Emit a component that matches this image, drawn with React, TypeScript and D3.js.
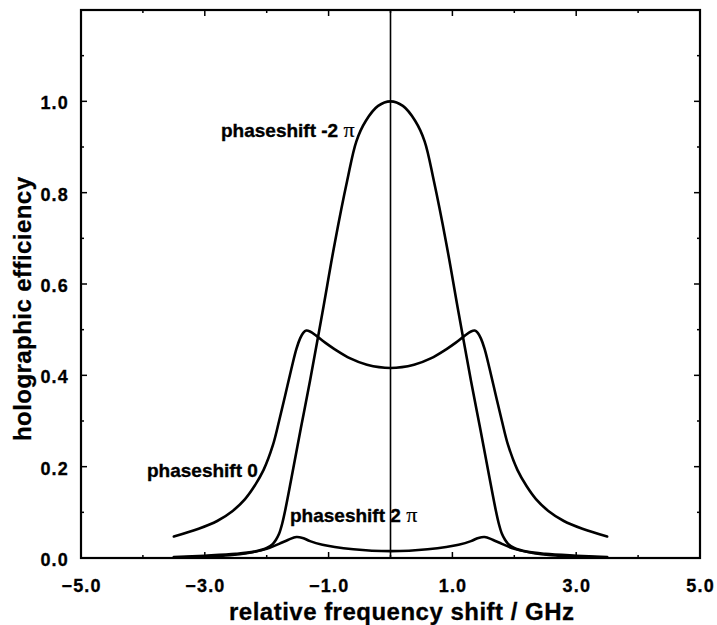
import React from 'react';
import * as d3 from 'd3';

const W = 717;
const H = 625;

const xDomain = [-5, 5];
const yDomain = [0, 1.2];
const xLabelTicks = [-5, -3, -1, 1, 3, 5];
const xMinorTicks = [-4, -2, 0, 2, 4];
const yLabelTicks = [0, 0.2, 0.4, 0.6, 0.8, 1.0];
const yMinorTicks = [0.1, 0.3, 0.5, 0.7, 0.9, 1.1];

// phaseshift -2π
const freqA = [-3.5, -3.0, -2.5, -2.2, -2.0, -1.9, -1.85, -1.8, -1.75, -1.7, -1.6, -1.45, -1.3, -1.1, -0.9, -0.7, -0.55, -0.4, -0.2, 0,
  0.2, 0.4, 0.55, 0.7, 0.9, 1.1, 1.3, 1.45, 1.6, 1.7, 1.75, 1.8, 1.85, 1.9, 2.0, 2.2, 2.5, 3.0, 3.5];
const effA = [0.002, 0.005, 0.009, 0.014, 0.022, 0.031, 0.04, 0.053, 0.075, 0.105, 0.175, 0.283, 0.388, 0.537, 0.69, 0.826, 0.913, 0.957, 0.99, 1.0,
  0.99, 0.957, 0.913, 0.826, 0.69, 0.537, 0.388, 0.283, 0.175, 0.105, 0.075, 0.053, 0.04, 0.031, 0.022, 0.014, 0.009, 0.005, 0.002];

// phaseshift 0
const freqB = [-3.5, -3.1, -2.8, -2.55, -2.35, -2.2, -2.05, -1.9, -1.8, -1.7, -1.6, -1.52, -1.46, -1.41, -1.36, -1.3, -1.2, -1.05, -0.9, -0.65, -0.38, 0,
  0.38, 0.65, 0.9, 1.05, 1.2, 1.3, 1.36, 1.41, 1.46, 1.52, 1.6, 1.7, 1.8, 1.9, 2.05, 2.2, 2.35, 2.55, 2.8, 3.1, 3.5];
const effB = [0.047, 0.064, 0.081, 0.103, 0.129, 0.157, 0.193, 0.247, 0.3, 0.357, 0.415, 0.458, 0.481, 0.493, 0.498, 0.496, 0.487, 0.471, 0.457, 0.437, 0.423, 0.416,
  0.423, 0.437, 0.457, 0.471, 0.487, 0.496, 0.498, 0.493, 0.481, 0.458, 0.415, 0.357, 0.3, 0.247, 0.193, 0.157, 0.129, 0.103, 0.081, 0.064, 0.047];

// phaseshift 2π
const freqC = [-3.5, -3.0, -2.6, -2.3, -2.0, -1.8, -1.65, -1.52, -1.42, -1.3, -1.1, -0.9, -0.6, -0.3, 0,
  0.3, 0.6, 0.9, 1.1, 1.3, 1.42, 1.52, 1.65, 1.8, 2.0, 2.3, 2.6, 3.0, 3.5];
const effC = [0.001, 0.003, 0.006, 0.011, 0.02, 0.031, 0.04, 0.046, 0.044, 0.037, 0.029, 0.024, 0.019, 0.016, 0.015,
  0.016, 0.019, 0.024, 0.029, 0.037, 0.044, 0.046, 0.04, 0.031, 0.02, 0.011, 0.006, 0.003, 0.001];

const FONT = '"Liberation Sans", Arial, Helvetica, sans-serif';
const SERIF = '"Liberation Serif", "DejaVu Serif", serif';

export default function App() {
  const x = d3.scaleLinear().domain(xDomain).range([81, 700]);
  const y = d3.scaleLinear().domain(yDomain).range([558, 10]);
  const line = d3
    .line<[number, number]>()
    .x((d) => x(d[0]))
    .y((d) => y(d[1]))
    .curve(d3.curveCatmullRom.alpha(0.5));
  const mk = (xs: number[], ys: number[]) => xs.map((v, i) => [v, ys[i]] as [number, number]);

  const x0 = x.range()[0];
  const x1 = x.range()[1];
  const y0 = y.range()[0];
  const y1 = y.range()[1];
  const fmt = d3.format('.1f');
  const minus = (v: number) => fmt(v).replace('-', '\u2212');

  return (
    <svg width={W} height={H} style={{ position: 'absolute', left: 0, top: 0, background: '#fff' }}>
      <rect x={0} y={0} width={W} height={H} fill="#fff" />
      {/* ticks */}
      <g stroke="#000" strokeWidth={1.5}>
        {xLabelTicks.map((t) => (
          <g key={'xt' + t}>
            <line x1={x(t)} x2={x(t)} y1={y0} y2={y0 - 6} />
            <line x1={x(t)} x2={x(t)} y1={y1} y2={y1 + 6} />
          </g>
        ))}
        {xMinorTicks.map((t) => (
          <g key={'xm' + t}>
            <line x1={x(t)} x2={x(t)} y1={y0} y2={y0 - 3} />
            <line x1={x(t)} x2={x(t)} y1={y1} y2={y1 + 3} />
          </g>
        ))}
        {yLabelTicks.map((t) => (
          <g key={'yt' + t}>
            <line x1={x0} x2={x0 + 6} y1={y(t)} y2={y(t)} />
            <line x1={x1} x2={x1 - 6} y1={y(t)} y2={y(t)} />
          </g>
        ))}
        {yMinorTicks.map((t) => (
          <g key={'ym' + t}>
            <line x1={x0} x2={x0 + 3} y1={y(t)} y2={y(t)} />
            <line x1={x1} x2={x1 - 3} y1={y(t)} y2={y(t)} />
          </g>
        ))}
      </g>
      {/* zero line */}
      <line x1={x(0)} x2={x(0)} y1={y1} y2={y0} stroke="#000" strokeWidth={1.6} />
      {/* curves */}
      <g fill="none" stroke="#000" strokeWidth={2.6} strokeLinejoin="round" strokeLinecap="round">
        <path d={line(mk(freqA, effA)) || ''} />
        <path d={line(mk(freqB, effB)) || ''} />
        <path d={line(mk(freqC, effC)) || ''} />
      </g>
      {/* frame */}
      <rect x={x0} y={y1} width={x1 - x0} height={y0 - y1} fill="none" stroke="#000" strokeWidth={2.2} />
      {/* tick labels */}
      <g fontFamily={FONT} fontWeight="bold" fontSize={18} fill="#000" stroke="#000" strokeWidth={0.3} letterSpacing={1.2}>
        {xLabelTicks.map((t) => (
          <text key={'xl' + t} x={x(t) + 0.6} y={592} textAnchor="middle">
            {minus(t)}
          </text>
        ))}
        {yLabelTicks.map((t) => (
          <text key={'yl' + t} x={69} y={y(t) + 8} textAnchor="end">
            {fmt(t)}
          </text>
        ))}
      </g>
      {/* axis titles */}
      <g fontFamily={FONT} fontWeight="bold" fontSize={24} fill="#000" stroke="#000" strokeWidth={0.3}>
        <text x={(229 + 574) / 2} y={620} textAnchor="middle" textLength={345} lengthAdjust="spacing">
          relative frequency shift / GHz
        </text>
        <text transform="translate(31,309) rotate(-90)" textAnchor="middle" textLength={264} lengthAdjust="spacing">
          holographic efficiency
        </text>
      </g>
      {/* annotations */}
      <g fontFamily={FONT} fontWeight="bold" fontSize={19} fill="#000" stroke="#000" strokeWidth={0.35}>
        <text x={221} y={137}>
          phaseshift -2 <tspan fontFamily={SERIF} fontWeight="normal" fontSize={22} strokeWidth={0.2}>π</tspan>
        </text>
        <text x={147} y={477}>phaseshift 0</text>
        <text x={290} y={522}>
          phaseshift 2 <tspan fontFamily={SERIF} fontWeight="normal" fontSize={22} strokeWidth={0.2}>π</tspan>
        </text>
      </g>
    </svg>
  );
}
